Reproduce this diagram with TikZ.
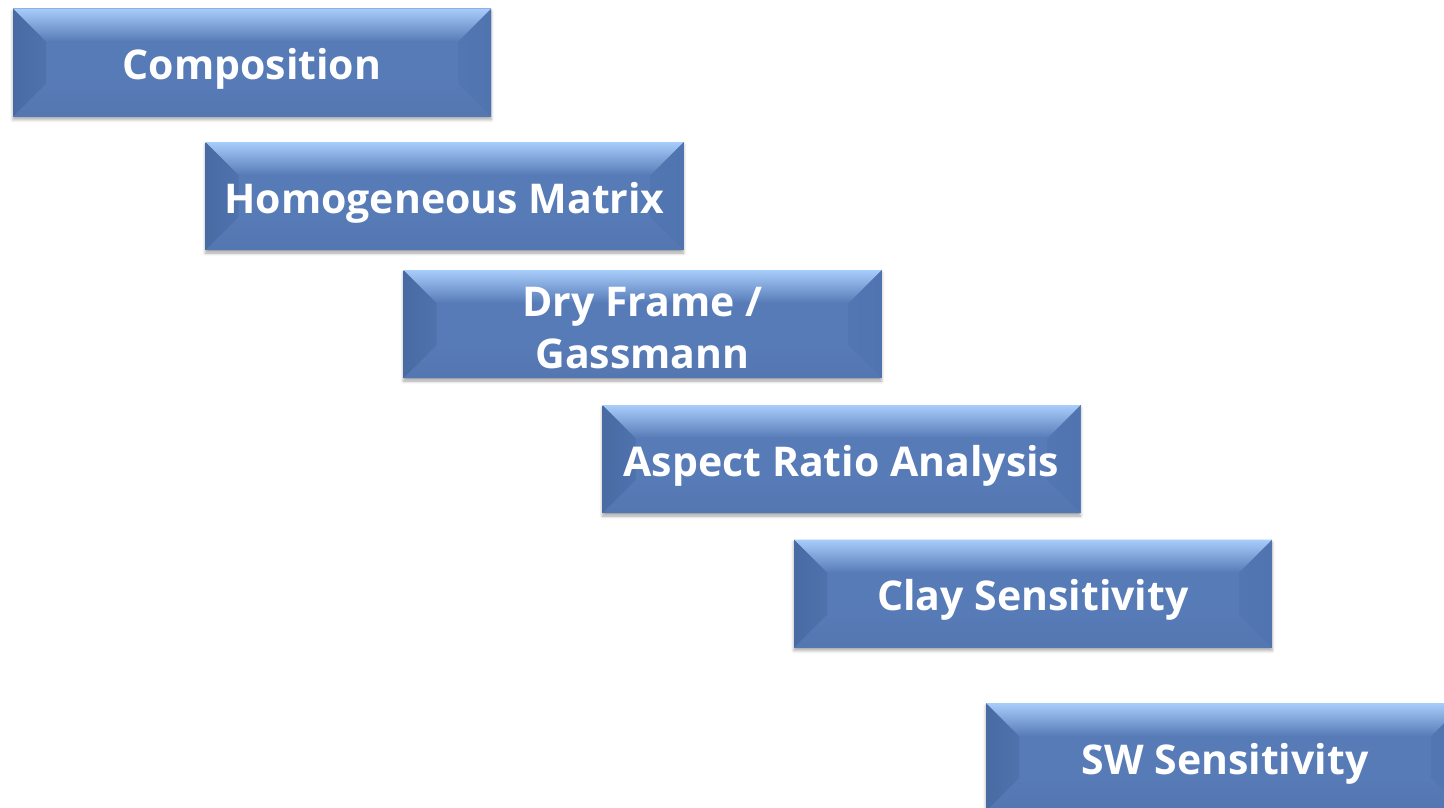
\documentclass[tikz,border=0pt]{standalone}
\usepackage{fontspec}
\setmainfont{Open Sans}
\usetikzlibrary{calc,shadows.blur}

\definecolor{bvface}{HTML}{577BB7}
\definecolor{bvtop}{HTML}{A8CDFB}
\definecolor{bvleft}{HTML}{496BA4}
\definecolor{bvright}{HTML}{5074AF}
\definecolor{bvbottom}{HTML}{5476B1}

% bevel inset of each box, in px units
\def\bv{33}

\tikzset{
  bevelbox/.style={
    minimum width=478, minimum height=108, inner sep=0pt,
    align=center, text=white,
    font=\fontsize{41}{52}\selectfont\bfseries,
    text height=44pt, text depth=10pt,
    fill=bvface,
    blur shadow={shadow xshift=0pt, shadow yshift=-3pt,
                 shadow blur radius=3pt, shadow opacity=35},
    path picture={
      \coordinate (nw) at (path picture bounding box.north west);
      \coordinate (ne) at (path picture bounding box.north east);
      \coordinate (sw) at (path picture bounding box.south west);
      \coordinate (se) at (path picture bounding box.south east);
      \coordinate (inw) at ([shift={(\bv,\bv)}]nw);
      \coordinate (ine) at ([shift={(-\bv,\bv)}]ne);
      \coordinate (isw) at ([shift={(\bv,-\bv)}]sw);
      \coordinate (ise) at ([shift={(-\bv,-\bv)}]se);
      \fill[bvface] (nw) rectangle (se);
      % lower facet
      \shade[top color=bvface, bottom color=bvbottom]
        (sw) -- (isw) -- (ise) -- (se) -- cycle;
      % left facet
      \shade[left color=bvleft, right color=bvleft!55!bvface]
        (nw) -- (inw) -- (isw) -- (sw) -- cycle;
      % right facet
      \shade[left color=bvright!70!bvface, right color=bvright]
        (ne) -- (ine) -- (ise) -- (se) -- cycle;
      % lit upper facet
      \shade[top color=bvtop, bottom color=bvface]
        (nw) -- (ne) -- (ine) -- (inw) -- cycle;
    }
  }
}

\begin{document}
\begin{tikzpicture}[x=1pt,y=-1pt]
  \useasboundingbox (0,0) rectangle (1444,808);
  \clip (0,0) rectangle (1444,808);
  \node[bevelbox] (comp) at (252,62.5)    {Composition};
  \node[bevelbox] (homo) at (444.5,196)   {Homogeneous Matrix};
  \node[bevelbox, text height=, text depth=] (dry) at (642.5,324)
    {\rule{0pt}{37pt}Dry Frame /\\Gassmann};
  \node[bevelbox] (asp)  at (841.5,459)   {Aspect Ratio Analysis};
  \node[bevelbox] (clay) at (1033,593.5)  {Clay Sensitivity};
  \node[bevelbox] (sw)   at (1225,757)    {SW Sensitivity};
\end{tikzpicture}
\end{document}
